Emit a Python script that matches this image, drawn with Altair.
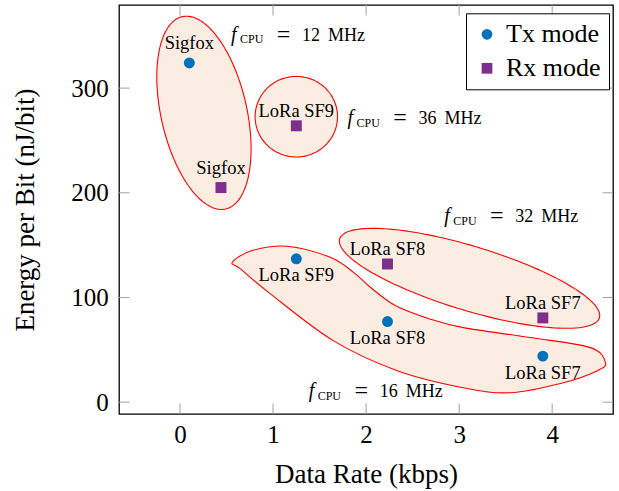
import altair as alt
import pandas as pd
import numpy as np

# ---------------- data ----------------
tx_x = [0.10, 1.25, 2.23, 3.90]
tx_y = [324, 137, 77, 44]
tx_labels = ["Sigfox", "LoRa SF9", "LoRa SF8", "LoRa SF7"]
tx_pos = ["above", "below", "below", "below"]

rx_x = [0.44, 1.25, 2.23, 3.90]
rx_y = [205, 264, 132, 80.5]
rx_labels = ["Sigfox", "LoRa SF9", "LoRa SF8", "LoRa SF7"]
rx_pos = ["above", "above", "above", "above"]

freq_mhz = ["12", "36", "32", "16"]
freq_x = [0.549, 1.800, 2.841, 1.383]
freq_y = [345.4, 265.5, 172.0, 4.6]

# elliptical grouping outlines: centre (data units), semi-axes (px), rotation (deg, clockwise)
ell_cx = [0.257, 1.250, 3.112]
ell_cy = [276.4, 272.7, 118.3]
ell_a = [98.6, 41.2, 135.7]
ell_b = [42.9, 40.3, 32.1]
ell_rot = [77.3, 0.0, 16.9]

# free-form (smooth closed) outline around the Tx LoRa group
blob_x = [0.563, 0.775, 1.151, 1.614, 1.865, 2.045, 2.314, 2.690, 3.045, 3.766, 4.412, 4.573,
          4.487, 4.121, 3.551, 3.045, 2.335, 1.646, 0.968, 0.646]
blob_y = [133.7, 144.8, 149.0, 138.4, 124.0, 109.8, 92.3, 79.3, 71.2, 61.7, 52.1, 37.8,
          30.1, 18.6, 9.0, 13.8, 30.1, 58.8, 103.7, 127.6]

x_ticks = [0, 1, 2, 3, 4]
y_ticks = [0, 100, 200, 300]
X_DOMAIN = [-0.656, 4.654]
Y_DOMAIN = [-11.3, 379.4]
X_TITLE = "Data Rate (kbps)"
Y_TITLE = "Energy per Bit (nJ/bit)"

# ---------------- styles ----------------
W, H = 494, 409
BLUE = "#0072BD"
PURPLE = "#7E2F8E"
FILL = "#fcede3"
RED = "#ff0000"
FONT = "Liberation Serif"
TICK_LEN = 10.5
TICK = "#a0a0a0"

kx = W / (X_DOMAIN[1] - X_DOMAIN[0])
ky = H / (Y_DOMAIN[1] - Y_DOMAIN[0])

xs = alt.Scale(domain=X_DOMAIN, nice=False, zero=False)
ys = alt.Scale(domain=Y_DOMAIN, nice=False, zero=False)

X_AXIS = alt.Axis(values=x_ticks, format="d", domain=False, ticks=False, grid=False,
                  labelFont=FONT, labelFontSize=25, labelColor="black",
                  labelBaseline="alphabetic", labelPadding=28.6,
                  titleFont=FONT, titleFontSize=27, titleFontWeight="normal",
                  titleColor="black", titleX=W / 2, titleY=68.4,
                  titleBaseline="alphabetic", titleAlign="center")
Y_AXIS = alt.Axis(values=y_ticks, format="d", domain=False, ticks=False, grid=False,
                  labelFont=FONT, labelFontSize=25, labelColor="black",
                  labelPadding=10.7, labelBaseline="middle",
                  titleFont=FONT, titleFontSize=27, titleFontWeight="normal",
                  titleColor="black", titleX=-85.7, titleY=H / 2,
                  titleAngle=270, titleBaseline="alphabetic", titleAlign="center")


def X(field):
    return alt.X(field, scale=xs, title=X_TITLE, axis=X_AXIS)


def Y(field):
    return alt.Y(field, scale=ys, title=Y_TITLE, axis=Y_AXIS)


# ---------------- outline geometry ----------------
rows = []
for i in range(len(ell_cx)):
    th = np.radians(ell_rot[i])
    c, s = np.cos(th), np.sin(th)
    t = np.linspace(0, 2 * np.pi, 160, endpoint=False)
    dx = ell_a[i] * np.cos(t) * c - ell_b[i] * np.sin(t) * s
    dy = ell_a[i] * np.cos(t) * s + ell_b[i] * np.sin(t) * c
    for k in range(len(t)):
        rows.append({"id": i, "k": k, "x": ell_cx[i] + dx[k] / kx, "y": ell_cy[i] - dy[k] / ky})
for k in range(len(blob_x)):
    rows.append({"id": 9, "k": k, "x": blob_x[k], "y": blob_y[k]})
outline_df = pd.DataFrame(rows)

outlines = alt.Chart(outline_df).mark_line(
    interpolate="cardinal-closed", fill=FILL, stroke=RED, strokeWidth=1.1
).encode(
    x=X("x:Q"),
    y=Y("y:Q"),
    detail="id:N",
    order="k:Q",
)

# ---------------- points ----------------
pts = pd.DataFrame({
    "x": tx_x + rx_x,
    "y": tx_y + rx_y,
    "label": tx_labels + rx_labels,
    "pos": tx_pos + rx_pos,
    "mode": ["Tx mode"] * len(tx_x) + ["Rx mode"] * len(rx_x),
})
has_desc = pts["label"].apply(lambda s: any(ch in s for ch in "gpqy"))

leg = alt.Legend(
    title=None, orient="none", legendX=347, legendY=8.3,
    padding=8, strokeColor="black", fillColor="white",
    labelFont=FONT, labelFontSize=26, labelColor="black",
    symbolSize=115, symbolStrokeWidth=0, labelOffset=6, rowPadding=8,
    labelExpr="datum.label + ' \u2009'",
)
mode_domain = ["Tx mode", "Rx mode"]

points = alt.Chart(pts).mark_point(filled=True, opacity=1, size=120).encode(
    x=X("x:Q"),
    y=Y("y:Q"),
    color=alt.Color("mode:N", scale=alt.Scale(domain=mode_domain, range=[BLUE, PURPLE]), legend=leg),
    shape=alt.Shape("mode:N", scale=alt.Scale(domain=mode_domain, range=["circle", "square"]), legend=leg),
)


def label_layer(df, dy):
    return alt.Chart(df).mark_text(font=FONT, fontSize=18.5, color="black", align="center",
                                   baseline="alphabetic", dy=dy).encode(
        x=X("x:Q"), y=Y("y:Q"), text="label:N",
    )


lab_above_d = label_layer(pts[(pts["pos"] == "above") & has_desc], -13.5)
lab_above = label_layer(pts[(pts["pos"] == "above") & ~has_desc], -9.0)
lab_below = label_layer(pts[pts["pos"] == "below"], 22.4)

# ---------------- f_CPU annotations ----------------
ann = pd.DataFrame({"x": freq_x, "y": freq_y, "num": freq_mhz})
base_ann = alt.Chart(ann).encode(x=X("x:Q"), y=Y("y:Q"))
a_f = base_ann.mark_text(font=FONT, fontSize=20, fontStyle="italic", align="left",
                         baseline="alphabetic", color="black", text="f")
a_sub = base_ann.mark_text(font=FONT, fontSize=12, align="left", baseline="alphabetic",
                           color="black", dx=9, dy=2.5, text="CPU")
a_eq = base_ann.mark_text(font=FONT, fontSize=24, align="center", baseline="alphabetic",
                          color="black", dx=52.5, dy=1, text="=")
a_num = base_ann.mark_text(font=FONT, fontSize=18, align="left", baseline="alphabetic",
                           color="black", dx=71).encode(text="num:N")
a_mhz = base_ann.mark_text(font=FONT, fontSize=18, align="left", baseline="alphabetic",
                           color="black", dx=97, text="MHz")

# ---------------- inside ticks on all four sides ----------------
xt = pd.DataFrame({"v": x_ticks})
yt = pd.DataFrame({"v": y_ticks})
tick_b = alt.Chart(xt).mark_rule(color=TICK, strokeWidth=1).encode(
    x=X("v:Q"), y=alt.value(H), y2=alt.value(H - TICK_LEN))
tick_t = alt.Chart(xt).mark_rule(color=TICK, strokeWidth=1).encode(
    x=X("v:Q"), y=alt.value(0), y2=alt.value(TICK_LEN))
tick_l = alt.Chart(yt).mark_rule(color=TICK, strokeWidth=1).encode(
    y=Y("v:Q"), x=alt.value(0), x2=alt.value(TICK_LEN))
tick_r = alt.Chart(yt).mark_rule(color=TICK, strokeWidth=1).encode(
    y=Y("v:Q"), x=alt.value(W), x2=alt.value(W - TICK_LEN))

chart = alt.layer(
    outlines, tick_b, tick_t, tick_l, tick_r,
    lab_above_d, lab_above, lab_below, a_f, a_sub, a_eq, a_num, a_mhz, points,
).properties(
    width=W, height=H,
    autosize=alt.AutoSizeParams(type="none"),
    padding={"left": 119, "top": 5, "right": 6, "bottom": 77},
    background="white",
).configure_view(
    stroke="black", strokeWidth=1.3,
)

chart.save("out.html", embed_options={"renderer": "svg", "actions": False})
